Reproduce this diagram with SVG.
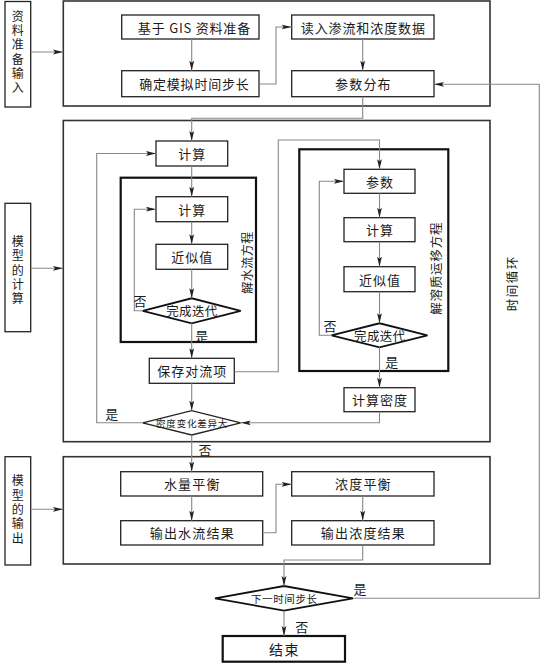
<svg xmlns="http://www.w3.org/2000/svg" width="541" height="664" viewBox="0 0 541 664">
<style>
text{font-family:"Noto Sans CJK SC","Noto Sans",sans-serif;fill:#1a1a1a;font-size:13px;text-anchor:middle;dominant-baseline:central}
text.s95{font-size:9.5px}
text.s105{font-size:10.5px}
text.s12{font-size:12px}
text.s125{font-size:12.5px}
text.s14{font-size:14px}
text.vert{font-size:12px;writing-mode:vertical-rl;letter-spacing:2.3px}
.box{fill:#fff;stroke:#222;stroke-width:1.3}
.frame{fill:none;stroke:#333;stroke-width:1.6}
.thick{fill:none;stroke:#111;stroke-width:2.2}
.dia{fill:#fff;stroke:#111;stroke-width:1.8}
.dia2{fill:#fff;stroke:#222;stroke-width:1.3}
.con{fill:none;stroke:#888;stroke-width:1.1}
</style>
<defs>
<marker id="arr" viewBox="0 0 10 6" refX="10" refY="3" markerWidth="10" markerHeight="6" markerUnits="userSpaceOnUse" orient="auto">
<path d="M0,0.6 L10,3 L0,5.4 L2,3 Z" fill="#222"/>
</marker>
</defs>
<rect width="541" height="664" fill="#fff"/>

<g id="frames">
<rect class="frame" x="63.3" y="1" width="426.7" height="105"/>
<rect class="frame" x="63.3" y="120.5" width="426.7" height="321.2"/>
<rect class="frame" x="63.3" y="456.7" width="426.7" height="107.3"/>
<rect class="thick" x="120.7" y="177.7" width="135.3" height="164.3"/>
<text class="s12" transform="translate(246.7,262.5) rotate(-90)" letter-spacing="0.5">解水流方程</text>
<rect class="thick" x="299.3" y="149.3" width="149" height="221.7"/>
<text class="s125" transform="translate(435,268.3) rotate(-90)" letter-spacing="0.8">解溶质运移方程</text>
<text class="s125" transform="translate(511.7,283.3) rotate(-90)" letter-spacing="1.5">时间循环</text>
</g>

<g id="side1"><rect class="box" x="5" y="1.5" width="25.7" height="105.5"/>
<text class="vert" x="17.8" y="53">资料准备输入</text></g>
<g id="side2"><rect class="box" x="5" y="203.3" width="25.7" height="128.4"/>
<text class="vert" x="17.8" y="271.3">模型的计算</text></g>
<g id="side3"><rect class="box" x="5" y="456.7" width="25.7" height="108.3"/>
<text class="vert" x="17.8" y="510.6">模型的输出</text></g>

<g id="n_gis"><rect class="box" x="121.7" y="15" width="137.3" height="24"/><text x="194.4" y="27" letter-spacing="0.8">基于 GIS 资料准备</text></g>
<g id="n_step"><rect class="box" x="121.7" y="70.7" width="137.3" height="26"/><text x="194.4" y="83.7" letter-spacing="0.8">确定模拟时间步长</text></g>
<g id="n_read"><rect class="box" x="291.7" y="15" width="142.3" height="24"/><text x="363.3" y="27" letter-spacing="0.9">读入渗流和浓度数据</text></g>
<g id="n_param"><rect class="box" x="291.7" y="70.7" width="142.3" height="26"/><text x="363.4" y="83.7" letter-spacing="1.2">参数分布</text></g>

<g id="n_calc0"><rect class="box" x="156" y="141" width="71.7" height="25"/><text x="192.3" y="153.5" letter-spacing="1">计算</text></g>
<g id="n_calc1"><rect class="box" x="156" y="196.7" width="71.7" height="25"/><text x="192.3" y="209.2" letter-spacing="1">计算</text></g>
<g id="n_approx1"><rect class="box" x="156" y="244.3" width="71.7" height="25"/><text x="192.3" y="256.8" letter-spacing="1">近似值</text></g>
<g id="n_iter1"><polygon class="dia" points="142.7,310.8 191.7,298.3 240.7,310.8 191.7,323.3"/><text class="s125" x="191.9" y="310.8" letter-spacing="0.3">完成迭代</text></g>
<g id="n_save"><rect class="box" x="149.3" y="358.3" width="85" height="25"/><text x="192.3" y="370.8" letter-spacing="1">保存对流项</text></g>
<g id="n_dens"><polygon class="dia2" points="142.7,422.8 191.7,410.7 240.7,422.8 191.7,435"/><text class="s95" x="192.1" y="422.8" letter-spacing="0.8">密度变化差异大</text></g>

<g id="n_param2"><rect class="box" x="344" y="169.3" width="71" height="24"/><text x="380" y="181.3" letter-spacing="1">参数</text></g>
<g id="n_calc2"><rect class="box" x="344" y="217.7" width="71" height="24"/><text x="380" y="229.7" letter-spacing="1">计算</text></g>
<g id="n_approx2"><rect class="box" x="344" y="266.7" width="71" height="25"/><text x="380" y="279.2" letter-spacing="1">近似值</text></g>
<g id="n_iter2"><polygon class="dia" points="331.5,335.3 379.5,323.3 427.5,335.3 379.5,347.3"/><text class="s125" x="379.7" y="335.3" letter-spacing="0.3">完成迭代</text></g>
<g id="n_cdens"><rect class="box" x="344" y="387.7" width="71" height="24"/><text x="380" y="399.7" letter-spacing="1">计算密度</text></g>

<g id="n_wbal"><rect class="box" x="120.7" y="471.7" width="142" height="24.3"/><text x="192.3" y="483.8" letter-spacing="1.2">水量平衡</text></g>
<g id="n_wout"><rect class="box" x="120.7" y="520.7" width="142" height="24.3"/><text x="192.3" y="532.8" letter-spacing="1.2">输出水流结果</text></g>
<g id="n_cbal"><rect class="box" x="291.7" y="471.7" width="142.3" height="24.3"/><text x="363.4" y="483.8" letter-spacing="1.2">浓度平衡</text></g>
<g id="n_cout"><rect class="box" x="291.7" y="520.7" width="142.3" height="24.3"/><text x="363.4" y="532.8" letter-spacing="1.2">输出浓度结果</text></g>
<g id="n_next"><polygon class="dia" points="215,598.3 284,586 353,598.3 284,610.7"/><text class="s105" x="284.3" y="598.3" letter-spacing="0.6">下一时间步长</text></g>
<g id="n_end"><rect class="thick" x="222.7" y="636" width="122.3" height="25.7"/><text class="s14" x="284.5" y="648.8" letter-spacing="1.5">结束</text></g>

<g id="connectors">
<path class="con" d="M30.7,52 H63" marker-end="url(#arr)"/>
<path class="con" d="M191.7,39 V70.7" marker-end="url(#arr)"/>
<path class="con" d="M259,84 H276 V27 H291.7" marker-end="url(#arr)"/>
<path class="con" d="M362.7,39 V70.7" marker-end="url(#arr)"/>
<path class="con" d="M362.7,96.7 V118.3 H191.7 V141" marker-end="url(#arr)"/>
<path class="con" d="M353,598.3 H539.3 V84.3 H434" marker-end="url(#arr)"/>
<path class="con" d="M30.7,268.3 H63" marker-end="url(#arr)"/>
<path class="con" d="M191.7,166 V196.7" marker-end="url(#arr)"/>
<path class="con" d="M191.7,221.7 V244.3" marker-end="url(#arr)"/>
<path class="con" d="M191.7,269.3 V298.3" marker-end="url(#arr)"/>
<path class="con" d="M142.7,310.8 H134.3 V209.2 H156" marker-end="url(#arr)"/>
<path class="con" d="M191.7,323.3 V358.3" marker-end="url(#arr)"/>
<path class="con" d="M234.3,371.7 H278.3 V140 H379.5 V169.3" marker-end="url(#arr)"/>
<path class="con" d="M379.5,193.3 V217.7" marker-end="url(#arr)"/>
<path class="con" d="M379.5,241.7 V266.7" marker-end="url(#arr)"/>
<path class="con" d="M379.5,291.7 V323.3" marker-end="url(#arr)"/>
<path class="con" d="M331.5,335.3 H319.3 V181.3 H344" marker-end="url(#arr)"/>
<path class="con" d="M379.5,347.3 V387.7" marker-end="url(#arr)"/>
<path class="con" d="M379.5,411.7 V422.8 H240.7" marker-end="url(#arr)"/>
<path class="con" d="M191.7,383.3 V410.7" marker-end="url(#arr)"/>
<path class="con" d="M142.7,422.8 H96.7 V153.5 H156" marker-end="url(#arr)"/>
<path class="con" d="M191.7,435 V471.7" marker-end="url(#arr)"/>
<path class="con" d="M30.7,509.3 H63" marker-end="url(#arr)"/>
<path class="con" d="M191.7,496 V520.7" marker-end="url(#arr)"/>
<path class="con" d="M262.7,532.8 H276 V484.3 H291.7" marker-end="url(#arr)"/>
<path class="con" d="M362.7,496 V520.7" marker-end="url(#arr)"/>
<path class="con" d="M362.7,545 V560 H284 V586" marker-end="url(#arr)"/>
<path class="con" d="M284,610.7 V636" marker-end="url(#arr)"/>
</g>

<g id="labels">
<text x="140" y="300">否</text>
<text x="201.7" y="335.5">是</text>
<text x="330" y="325">否</text>
<text x="391.7" y="361.7">是</text>
<text x="111.7" y="413.3">是</text>
<text x="205" y="449.3">否</text>
<text x="360" y="588">是</text>
<text x="301.7" y="626.7">否</text>
</g>
</svg>
